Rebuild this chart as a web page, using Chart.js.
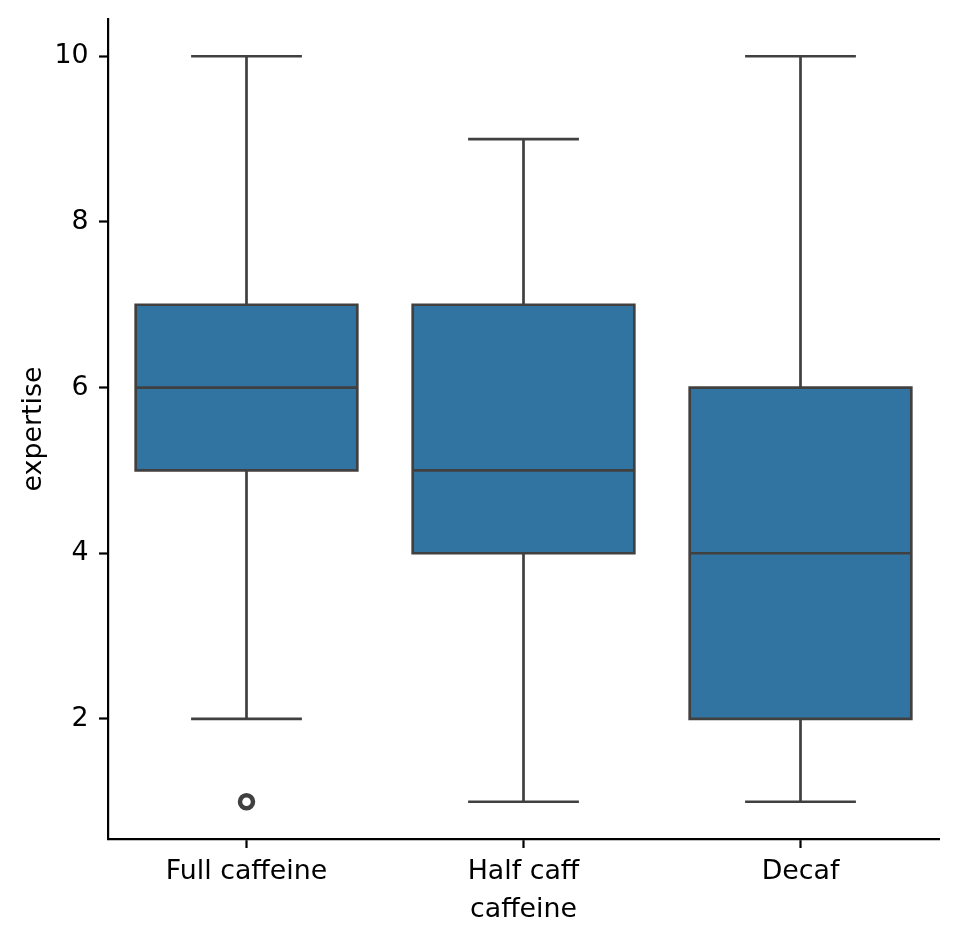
<!DOCTYPE html>
<html>
<head>
<meta charset="utf-8">
<script src="https://cdn.jsdelivr.net/npm/chart.js@4.4.1/dist/chart.umd.min.js"></script>
<style>
  html, body { margin: 0; padding: 0; background: #fff; }
  canvas { display: block; }
</style>
</head>
<body>
<canvas id="boxChart" width="974" height="940"></canvas>
<script>
// datos del grafico
const categorias = ['Full caffeine', 'Half caff', 'Decaf'];
const minimos = [2, 1, 1];
const q1 = [5, 4, 2];
const medianas = [6, 5, 4];
const q3 = [7, 7, 6];
const maximos = [10, 9, 10];
const atipicos = [{ x: 'Full caffeine', y: 1 }];
const ticksY = [2, 4, 6, 8, 10];

const colorCaja = '#3274a1';
const colorLinea = '#404040';
const fuente = { family: 'DejaVu Sans', size: 26.8 };

// contorno de caja, bigotes, tapas y medianas sobre las barras flotantes
const bigotesPlugin = {
  id: 'bigotes',
  afterDatasetsDraw(chart) {
    const ctx = chart.ctx;
    const x = chart.scales.x;
    const y = chart.scales.y;
    const barras = chart.getDatasetMeta(0).data;
    ctx.save();
    ctx.strokeStyle = colorLinea;
    ctx.lineWidth = 2.7;
    ctx.lineCap = 'butt';
    categorias.forEach((cat, i) => {
      const cx = x.getPixelForValue(i);
      const mitad = barras[i].width / 2;
      const tapa = mitad / 2;
      const yQ1 = y.getPixelForValue(q1[i]);
      const yQ3 = y.getPixelForValue(q3[i]);
      ctx.beginPath();
      ctx.rect(cx - mitad, yQ3, mitad * 2, yQ1 - yQ3);
      // bigote inferior
      ctx.moveTo(cx, yQ1);
      ctx.lineTo(cx, y.getPixelForValue(minimos[i]));
      ctx.moveTo(cx - tapa, y.getPixelForValue(minimos[i]));
      ctx.lineTo(cx + tapa, y.getPixelForValue(minimos[i]));
      // bigote superior
      ctx.moveTo(cx, yQ3);
      ctx.lineTo(cx, y.getPixelForValue(maximos[i]));
      ctx.moveTo(cx - tapa, y.getPixelForValue(maximos[i]));
      ctx.lineTo(cx + tapa, y.getPixelForValue(maximos[i]));
      // mediana
      ctx.moveTo(cx - mitad, y.getPixelForValue(medianas[i]));
      ctx.lineTo(cx + mitad, y.getPixelForValue(medianas[i]));
      ctx.stroke();
    });
    ctx.restore();
  }
};

const ctx = document.getElementById('boxChart').getContext('2d');
const chart = new Chart(ctx, {
  type: 'bar',
  data: {
    labels: categorias,
    datasets: [{
      label: 'caja',
      data: q1.map((v, i) => [v, q3[i]]),
      backgroundColor: colorCaja,
      borderWidth: 0,
      barPercentage: 0.8,
      categoryPercentage: 1.0,
      order: 2
    }, {
      type: 'line',
      label: 'atipicos',
      data: atipicos,
      showLine: false,
      pointRadius: 6.5,
      pointBorderWidth: 4.5,
      pointBackgroundColor: 'rgba(0,0,0,0)',
      pointBorderColor: colorLinea,
      order: 1
    }]
  },
  options: {
    responsive: false,
    animation: false,
    devicePixelRatio: 1,
    layout: { padding: { top: 19, right: 35, bottom: 0, left: 0 } },
    plugins: {
      legend: { display: false },
      tooltip: { enabled: false }
    },
    scales: {
      x: {
        type: 'category',
        offset: true,
        afterFit: (s) => { s.height = 101; s.paddingLeft = 0; s.paddingRight = 0; },
        grid: {
          offset: false,
          drawOnChartArea: false,
          drawTicks: true,
          tickLength: 9,
          tickWidth: 2.2,
          tickColor: '#000'
        },
        border: { display: true, color: '#000', width: 2.2 },
        ticks: { color: '#000', font: fuente, padding: 7.5, maxRotation: 0, autoSkip: false },
        title: { display: true, text: 'caffeine', color: '#000', font: fuente, padding: { top: 0, bottom: 14 } }
      },
      y: {
        min: 0.55,
        max: 10.45,
        afterFit: (s) => { s.width = 108; s.paddingTop = 0; s.paddingBottom = 0; },
        afterBuildTicks: (s) => { s.ticks = ticksY.map(v => ({ value: v })); },
        grid: {
          drawOnChartArea: false,
          drawTicks: true,
          tickLength: 9,
          tickWidth: 2.2,
          tickColor: '#000'
        },
        border: { display: true, color: '#000', width: 2.2 },
        ticks: { color: '#000', font: fuente, padding: 10.5 },
        title: { display: true, text: 'expertise', color: '#000', font: fuente, padding: { top: 17.5, bottom: 0 } }
      }
    }
  },
  plugins: [bigotesPlugin]
});
</script>
</body>
</html>
